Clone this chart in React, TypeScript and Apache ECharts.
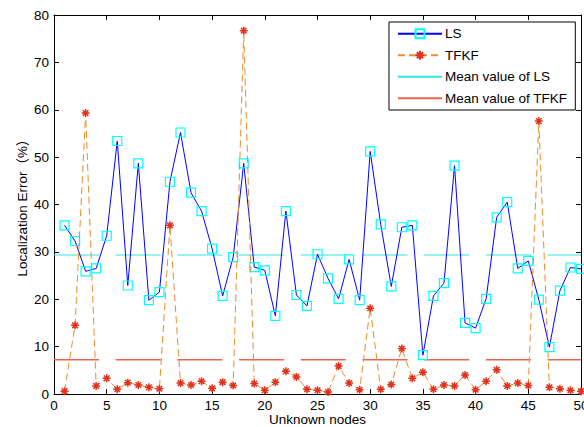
import React, { useEffect, useRef } from "react";
import * as echarts from "echarts";

const nodes: number[] = Array.from({ length: 50 }, (_, i) => i + 1);

const lsValues: number[] = [
  35.6, 32.3, 25.9, 26.5, 33.4, 53.4, 22.9, 48.7, 19.8, 21.5,
  44.8, 55.2, 42.5, 38.6, 30.7, 20.7, 28.9, 48.7, 26.8, 26.1,
  16.5, 38.6, 20.9, 18.6, 29.5, 24.4, 20.1, 28.4, 19.8, 51.2,
  35.8, 22.7, 35.2, 35.6, 8.2, 20.7, 23.4, 48.2, 15.0, 13.9,
  20.1, 37.3, 40.5, 26.5, 28.1, 19.9, 9.9, 21.8, 26.7, 26.4,
];

const tfkfValues: number[] = [
  0.6, 14.5, 59.3, 1.7, 3.3, 1.0, 2.4, 1.9, 1.4, 1.1,
  35.6, 2.3, 1.9, 2.7, 1.2, 2.5, 1.8, 76.7, 2.2, 0.8,
  2.5, 4.8, 3.6, 1.0, 0.8, 0.4, 5.9, 2.3, 0.9, 18.1,
  1.0, 2.0, 9.6, 3.3, 4.6, 1.0, 1.9, 1.7, 4.0, 0.9,
  2.7, 5.1, 1.7, 2.3, 1.8, 57.6, 1.4, 1.1, 0.8, 0.6,
];

const seriesNames: string[] = ["LS", "TFKF", "Mean value of LS", "Mean value of TFKF"];
const xRange: number[] = [0, 50];

const mean = (a: number[]) => a.reduce((s, v) => s + v, 0) / a.length;

const FONT = "'Liberation Sans', Arial, Helvetica, 'Noto Sans CJK SC', sans-serif";
const STAR = "path://M5,0L5,10M0,5L10,5M1.5,1.5L8.5,8.5M1.5,8.5L8.5,1.5";

export default function App() {
  const ref = useRef<HTMLDivElement>(null);

  useEffect(() => {
    if (!ref.current) return;
    const chart = echarts.init(ref.current, undefined, { renderer: "svg" });
    const lsMean = mean(lsValues);
    const tfMean = mean(tfkfValues);

    const axisCommon = {
      type: "value" as const,
      axisLine: { show: true, onZero: false, lineStyle: { color: "#000", width: 1 } },
      axisTick: { show: true, inside: true, length: 5, lineStyle: { color: "#000" } },
      splitLine: { show: false },
    };

    chart.setOption({
      animation: false,
      backgroundColor: "#fff",
      textStyle: { fontFamily: FONT },
      grid: {
        left: 54,
        top: 15,
        right: 3,
        bottom: 33,
        containLabel: false,
        outerBoundsMode: "none",
      },
      legend: {
        orient: "vertical",
        left: 389,
        top: 22,
        data: [
          { name: seriesNames[0] },
          { name: seriesNames[1] },
          { name: seriesNames[2], itemStyle: { opacity: 0 } },
          { name: seriesNames[3], itemStyle: { opacity: 0 } },
        ],
        selectedMode: false,
        itemWidth: 44,
        itemHeight: 11,
        itemGap: 8,
        padding: [5, 8, 5, 8],
        borderColor: "#000",
        borderWidth: 1,
        backgroundColor: "#fff",
        textStyle: { fontSize: 13.5, color: "#000", fontFamily: FONT, padding: [0, 0, 0, -2] },
      },
      xAxis: [
        {
          ...axisCommon,
          min: xRange[0],
          max: xRange[1],
          interval: 5,
          name: "Unknown nodes",
          nameLocation: "middle",
          nameGap: 19,
          nameMoveOverlap: false,
          nameTextStyle: { fontSize: 13.5, color: "#000", fontFamily: FONT },
          axisLabel: { fontSize: 13.5, color: "#000", margin: 5, fontFamily: FONT },
        },
        {
          ...axisCommon,
          position: "top",
          min: xRange[0],
          max: xRange[1],
          interval: 5,
          axisLabel: { show: false },
        },
      ],
      yAxis: [
        {
          ...axisCommon,
          min: 0,
          max: 80,
          interval: 10,
          name: "Localization Error（%）",
          nameLocation: "middle",
          nameGap: 25,
          nameMoveOverlap: false,
          nameTextStyle: { fontSize: 13.5, color: "#000", fontFamily: FONT },
          axisLabel: { fontSize: 13.5, color: "#000", margin: 5, fontFamily: FONT },
        },
        {
          ...axisCommon,
          position: "right",
          min: 0,
          max: 80,
          interval: 10,
          axisLabel: { show: false },
        },
      ],
      series: [
        {
          name: seriesNames[0],
          type: "line",
          data: nodes.map((n, i) => [n, lsValues[i]]),
          symbol: "rect",
          symbolSize: 9,
          showAllSymbol: true,
          lineStyle: { color: "#0000FF", width: 1 },
          itemStyle: { color: "rgba(0,0,0,0)", borderColor: "#00FFFF", borderWidth: 1.2 },
          z: 3,
        },
        {
          name: seriesNames[1],
          type: "line",
          data: nodes.map((n, i) => [n, tfkfValues[i]]),
          symbol: STAR,
          symbolSize: 8,
          showAllSymbol: true,
          lineStyle: { color: "#EC8C2A", width: 1, type: [7, 4] },
          itemStyle: { color: "rgba(0,0,0,0)", borderColor: "#E0321C", borderWidth: 1.5 },
          z: 4,
        },
        {
          name: seriesNames[2],
          type: "line",
          data: [[xRange[0], lsMean], [xRange[1], lsMean]],
          symbol: "none",
          lineStyle: { color: "#33E3E3", width: 1, type: [45, 16.7] },
          itemStyle: { color: "#33E3E3" },
          z: 2,
        },
        {
          name: seriesNames[3],
          type: "line",
          data: [[xRange[0], tfMean], [xRange[1], tfMean]],
          symbol: "none",
          lineStyle: { color: "#E8644C", width: 1.5, type: [45, 16.7] },
          itemStyle: { color: "#E8644C" },
          z: 2,
        },
      ],
    });
    return () => chart.dispose();
  }, []);

  return (
    <div
      ref={ref}
      style={{ position: "absolute", left: 0, top: 0, width: 584, height: 427 }}
    />
  );
}
